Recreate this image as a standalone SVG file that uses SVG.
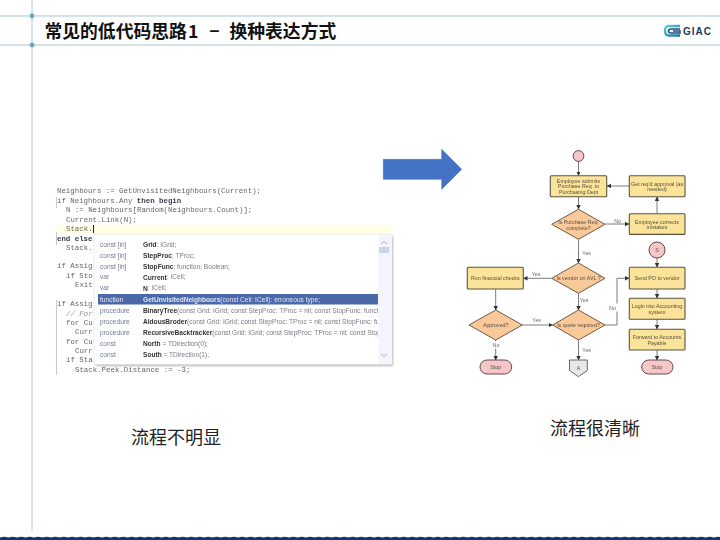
<svg xmlns="http://www.w3.org/2000/svg" width="720" height="540" viewBox="0 0 720 540">
<style>
.guide{stroke:#a9c5d3;stroke-width:1;fill:none}
.code{font:7.4px "Liberation Mono",monospace;fill:#666;dominant-baseline:central}
.codeb{fill:#3c3c50;font-weight:bold}
.kw{font:6.6px "Liberation Sans",sans-serif;fill:#6f7a96;dominant-baseline:central}
.sg{font:6.6px "Liberation Sans",sans-serif;fill:#7b7b85;dominant-baseline:central}
.nm{font-weight:bold;fill:#333}
.box{fill:#fbe39a;stroke:#5a5640;stroke-width:1.1}
.dia{fill:#f9c99a;stroke:#6b5a48;stroke-width:1}
.stop{fill:#f7c6c9;stroke:#5f4a4c;stroke-width:1}
.fl{font:5.3px "Liberation Sans",sans-serif;fill:#55503f;text-anchor:middle;dominant-baseline:central}
.lab{font:5.3px "Liberation Sans",sans-serif;fill:#666;text-anchor:middle;dominant-baseline:central}
.con{fill:none;stroke:#7d7d7d;stroke-width:1;marker-end:url(#ah)}
.cap{font:18px "Noto Sans CJK SC",sans-serif;fill:#222;text-anchor:middle;dominant-baseline:central}
.node,#connectors,#connector-labels{filter:url(#soft)}
</style>
<defs>
<marker id="ah" markerWidth="5" markerHeight="5" refX="4" refY="2.2" orient="auto" markerUnits="userSpaceOnUse"><path d="M0 0L4.4 2.2L0 4.4Z" fill="#333"/></marker>
<filter id="soft" x="-10%" y="-10%" width="120%" height="120%"><feGaussianBlur stdDeviation="0.42"/></filter>
<filter id="shadow" x="-5%" y="-5%" width="110%" height="110%"><feGaussianBlur stdDeviation="1"/></filter>
<clipPath id="pop"><rect x="98" y="234" width="280" height="130"/></clipPath>
<linearGradient id="lg" x1="0" y1="0" x2="1" y2="1"><stop offset="0" stop-color="#5fd0d8"/><stop offset="1" stop-color="#1c6f9c"/></linearGradient>
<pattern id="wave" x="0" y="536" width="8.5" height="4" patternUnits="userSpaceOnUse"><path d="M0 1.500Q4.250 0 8.500 1.500V4H0Z" fill="#12346f"/></pattern>
</defs>
<rect width="720" height="540" fill="#fff"/>

<g id="frame">
<path class="guide" d="M0 16H720M0 45H720"/>
<path d="M32 0V531" stroke="#b4c8dc" stroke-width="1" fill="none"/>
<circle cx="32" cy="16" r="2.400" fill="#6ea6c6"/>
<circle cx="32" cy="45" r="2.400" fill="#6ea6c6"/>
<rect y="536" width="720" height="4" fill="url(#wave)"/>
</g>

<text id="title" y="30" font-family="'Noto Sans CJK SC',sans-serif" font-weight="bold" font-size="17.8" fill="#111" dominant-baseline="central"><tspan x="44.500">常见的低代码思路</tspan><tspan x="188">1</tspan><tspan x="209.500" font-family="'Liberation Sans',sans-serif">–</tspan><tspan x="229.500">换种表达方式</tspan></text>

<g id="logo">
<path d="M680 26H669Q665 26 665 30.500Q665 35.500 669 35.500H680" fill="none" stroke="url(#lg)" stroke-width="2.400"/>
<path d="M680 29H671Q668.500 29 668.500 31Q668.500 33 671 33H680V31H673" fill="none" stroke="#1d4e78" stroke-width="1.600"/>
<text x="683" y="31" font-family="'Liberation Sans',sans-serif" font-weight="bold" font-size="10" letter-spacing="1" fill="#1f3a5c" dominant-baseline="central">GIAC</text>
</g>

<g id="code-panel" filter="url(#soft)">
<rect x="57" y="225" width="335" height="8.500" fill="#ffffe6"/>
<path d="M56.500 197V208M56.500 232V245M56.500 300V375" stroke="#c8c8d4" stroke-width="1" fill="none"/>
<text class="code" x="57" y="190.700">Neighbours := GetUnvisitedNeighbours(Current);</text>
<text class="code" x="57" y="200.700">if Neighbours.Any <tspan class="codeb">then begin</tspan></text>
<text class="code" x="66" y="210">N := Neighbours[Random(Neighbours.Count)];</text>
<text class="code" x="66" y="219.700">Current.Link(N);</text>
<text class="code" x="66" y="229">Stack.</text>
<path d="M93.500 225V233" stroke="#222" stroke-width="1"/>
<text class="code" x="57" y="238.500"><tspan class="codeb">end else</tspan></text>
<text class="code" x="66" y="247.500">Stack.</text>
<text class="code" x="57" y="266">if Assig</text>
<text class="code" x="66" y="276">if Sto</text>
<text class="code" x="75" y="285">Exit</text>
<text class="code" x="57" y="304">if Assig</text>
<text class="code" x="66" y="314" style="fill:#8a94a8;font-style:italic">// For</text>
<text class="code" x="66" y="323">for Cu</text>
<text class="code" x="75" y="332">Curr</text>
<text class="code" x="66" y="342">for Cu</text>
<text class="code" x="75" y="351">Curr</text>
<text class="code" x="66" y="360">if Sta</text>
<text class="code" x="75" y="370">Stack.Peek.Distance := -3;</text>

<rect x="96" y="236" width="297" height="130" fill="#888" opacity=".6" filter="url(#shadow)"/>
<rect x="94" y="234" width="298" height="130.500" fill="#fff" stroke="#d8d8d8" stroke-width=".5"/>
<rect x="378.500" y="235" width="12.500" height="129" fill="#f2f5fb"/>
<rect x="379" y="247" width="10" height="6" fill="#c9d6ea"/>
<path d="M381 244L384 241.500L387 244M381 354L384 356.500L387 354" fill="none" stroke="#9a9a9a" stroke-width=".8"/>
<rect x="98" y="294" width="280" height="10.500" fill="#4b67a8"/>
<g clip-path="url(#pop)">
<text class="kw" x="100" y="244">const [in]</text><text class="sg" x="143" y="244"><tspan class="nm">Grid</tspan>: IGrid;</text>
<text class="kw" x="100" y="255">const [in]</text><text class="sg" x="143" y="255"><tspan class="nm">StepProc</tspan>: TProc;</text>
<text class="kw" x="100" y="266">const [in]</text><text class="sg" x="143" y="266"><tspan class="nm">StopFunc</tspan>: function: Boolean;</text>
<text class="kw" x="100" y="276.500">var</text><text class="sg" x="143" y="276.500"><tspan class="nm">Current</tspan>: ICell;</text>
<text class="kw" x="100" y="287.500">var</text><text class="sg" x="143" y="287.500"><tspan class="nm">N</tspan>: ICell;</text>
<text class="kw" x="100" y="299" style="fill:#e8ecf6">function</text><text class="sg" x="143" y="299" style="fill:#dfe5f3"><tspan font-weight="bold">GetUnvisitedNeighbours</tspan>(const Cell: ICell): erroneous type;</text>
<text class="kw" x="100" y="310">procedure</text><text class="sg" x="143" y="310"><tspan class="nm">BinaryTree</tspan>(const Grid: IGrid; const StepProc: TProc = nil; const StopFunc: functi</text>
<text class="kw" x="100" y="321">procedure</text><text class="sg" x="143" y="321"><tspan class="nm">AldousBroder</tspan>(const Grid: IGrid; const StepProc: TProc = nil; const StopFunc: fur</text>
<text class="kw" x="100" y="332">procedure</text><text class="sg" x="143" y="332"><tspan class="nm">RecursiveBacktracker</tspan>(const Grid: IGrid; const StepProc: TProc = nil; const Stop</text>
<text class="kw" x="100" y="343">const</text><text class="sg" x="143" y="343"><tspan class="nm">North</tspan> = TDirection(0);</text>
<text class="kw" x="100" y="354">const</text><text class="sg" x="143" y="354"><tspan class="nm">South</tspan> = TDirection(1);</text>
</g>
</g>

<path id="big-arrow" d="M383.300 159.300H441.700V149.300L461.700 169.300L441.700 189.300V179.300H383.300Z" fill="#4472c4" stroke="#3f68b2" stroke-width=".5"/>

<g id="connectors">
<path class="con" d="M578.500 161.500V175.500"/>
<path class="con" d="M578.500 196.700V209"/>
<path class="con" d="M605 224H629"/>
<path class="con" d="M657 213.700V197"/>
<path class="con" d="M629.300 186H607"/>
<path class="con" d="M578.500 239.300V263"/>
<path class="con" d="M657 258V267"/>
<path class="con" d="M657 289V298"/>
<path class="con" d="M657 319.300V329"/>
<path class="con" d="M657 350V360"/>
<path class="con" d="M551.700 278.300H523.500"/>
<path class="con" d="M578.500 293.300V310"/>
<path class="con" d="M605 325H617V278.300H629"/>
<path class="con" d="M578.500 340V360"/>
<path class="con" d="M522.300 325H552.500"/>
<path class="con" d="M495.700 289V310"/>
<path class="con" d="M495.700 340V360"/>
</g>
<g id="connector-labels">
<rect x="612.500" y="303.500" width="10" height="8" fill="#fff"/>
<rect x="491" y="341.500" width="10" height="7" fill="#fff"/>
<text class="lab" x="617.700" y="221">No</text>
<text class="lab" x="586.700" y="252.700">Yes</text>
<text class="lab" x="536" y="274">Yes</text>
<text class="lab" x="584" y="300">Yes</text>
<text class="lab" x="612.500" y="307.700">No</text>
<text class="lab" x="536.700" y="320">Yes</text>
<text class="lab" x="496" y="345">No</text>
<text class="lab" x="586.700" y="350">Yes</text>
</g>

<g id="n-start" class="node"><circle cx="578.500" cy="156" r="5.400" class="stop"/></g>
<g id="n-submit" class="node"><rect class="box" x="550.300" y="175.700" width="56.400" height="21" rx="1"/><text class="fl" x="578.500" y="180.800">Employee submits</text><text class="fl" x="578.500" y="186.200">Purchase Req. to</text><text class="fl" x="578.500" y="191.600">Purchasing Dept</text></g>
<g id="n-complete" class="node"><path class="dia" d="M578.500 209.300L605 224.300L578.500 239.300L551.700 224.300Z"/><text class="fl" x="578.500" y="221.500">Is Purchase Req.</text><text class="fl" x="578.500" y="227.500">complete?</text></g>
<g id="n-approval" class="node"><rect class="box" x="629.300" y="175.700" width="55.700" height="21" rx="1"/><text class="fl" x="657" y="183.500">Get req'd approval (as</text><text class="fl" x="657" y="189">needed)</text></g>
<g id="n-corrects" class="node"><rect class="box" x="629.300" y="213.700" width="55.700" height="20.700" rx="1"/><text class="fl" x="657" y="221.500">Employee corrects</text><text class="fl" x="657" y="227">mistakes</text></g>
<g id="n-s" class="node"><circle class="stop" cx="657" cy="250" r="8"/><text class="fl" x="657" y="250">S</text></g>
<g id="n-send" class="node"><rect class="box" x="629.300" y="267.300" width="55.700" height="21.700" rx="1"/><text class="fl" x="657" y="278.300">Send PO to vendor</text></g>
<g id="n-login" class="node"><rect class="box" x="629.300" y="298.300" width="55.700" height="21" rx="1"/><text class="fl" x="657" y="306.200">Login into Accounting</text><text class="fl" x="657" y="311.800">system</text></g>
<g id="n-forward" class="node"><rect class="box" x="629.300" y="329.300" width="55.700" height="20.700" rx="1"/><text class="fl" x="657" y="337.200">Forward to Accounts</text><text class="fl" x="657" y="342.800">Payable</text></g>
<g id="n-stop-right" class="node"><rect class="stop" x="641.700" y="360" width="31.300" height="14" rx="7"/><text class="fl" x="657" y="367">Stop</text></g>
<g id="n-avl" class="node"><path class="dia" d="M578.500 263L605 278.300L578.500 293.300L551.700 278.300Z"/><text class="fl" x="578.500" y="278.300">Is vendor on AVL ?</text></g>
<g id="n-quote" class="node"><path class="dia" d="M578.500 310L605 325L578.500 340L552.700 325Z"/><text class="fl" x="578.500" y="325">Is quote required?</text></g>
<g id="n-financial" class="node"><rect class="box" x="467.300" y="267.300" width="56" height="21.700" rx="1"/><text class="fl" x="495.300" y="278.300">Run financial checks</text></g>
<g id="n-approved" class="node"><path class="dia" d="M495.700 310L522.300 325L495.700 340L469 325Z"/><text class="fl" x="495.700" y="325">Approved?</text></g>
<g id="n-stop-left" class="node"><rect class="stop" x="480" y="360" width="31.700" height="14" rx="7"/><text class="fl" x="495.700" y="367">Stop</text></g>
<g id="n-a" class="node"><path d="M569.500 360H587.300V370.500L578.400 376.700L569.500 370.500Z" fill="#e8e8e8" stroke="#666" stroke-width="1"/><text class="fl" x="578.400" y="368">A</text></g>

<text class="cap" x="176" y="436">流程不明显</text>
<text class="cap" x="595" y="427">流程很清晰</text>
</svg>
